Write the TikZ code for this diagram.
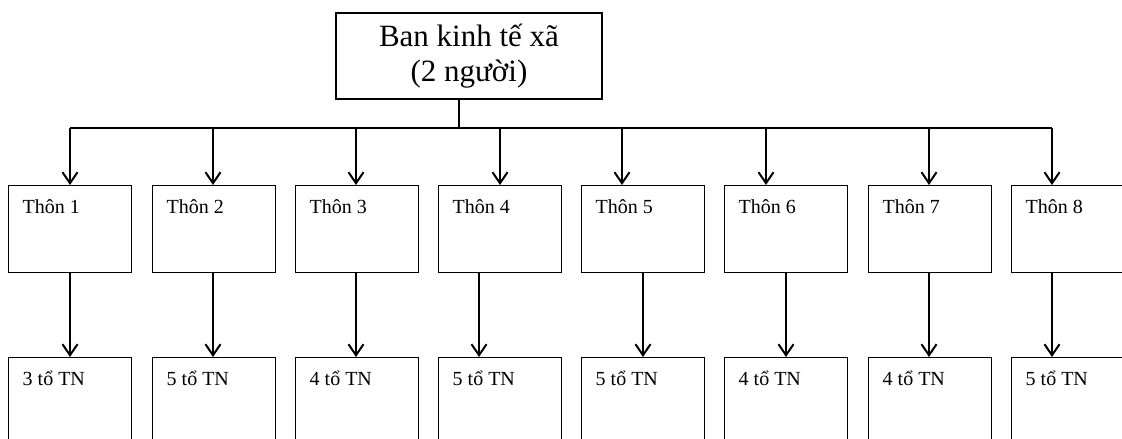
\documentclass[tikz,border=0pt]{standalone}
\usepackage{fontspec}
\setmainfont{Liberation Serif}
\usetikzlibrary{arrows.meta}
\begin{document}
\begin{tikzpicture}[x=1pt,y=-1pt,
  box/.style={draw,line width=1.3pt,minimum width=123pt,minimum height=87pt,inner sep=0pt},
  topbox/.style={draw,line width=1.3pt,minimum width=266pt,minimum height=86pt,inner sep=0pt,align=center,
    font=\fontsize{31}{35}\selectfont},
  lbl/.style={anchor=base west,inner sep=0pt,font=\fontsize{20}{24}\selectfont},
  link/.style={line width=2pt},
  arr/.style={line width=2pt,-{Straight Barb[length=11pt,width=15pt,line width=2pt]}}]
\useasboundingbox (0,0) rectangle (1122,439);
\clip (0,0) rectangle (1122,439);
% head office
\node[topbox] (top) at (469,56) {Ban kinh tế xã\\(2 người)};
% village and group boxes
\foreach \i/\lx/\ux/\dx/\tv/\tg in {
    1/8/70/70/Thôn 1/3 tổ TN,
    2/152/213/213/Thôn 2/5 tổ TN,
    3/295/356/356/Thôn 3/4 tổ TN,
    4/438/500/479/Thôn 4/5 tổ TN,
    5/581/622/643/Thôn 5/5 tổ TN,
    6/724/766/786/Thôn 6/4 tổ TN,
    7/868/929/929/Thôn 7/4 tổ TN,
    8/1011/1052/1052/Thôn 8/5 tổ TN}{
  \node[box,anchor=north west] (t\i) at (\lx,185) {};
  \node[box,anchor=north west] (g\i) at (\lx,357) {};
  \node[lbl] (tl\i) at ([xshift=14.5pt,yshift=-28pt]t\i.north west) {\tv};
  \node[lbl] (gl\i) at ([xshift=14.5pt,yshift=-28pt]g\i.north west) {\tg};
  \coordinate (b\i) at (\ux,128);
  \coordinate (d\i) at (\dx,272);
  \draw[arr] (b\i) -- (b\i |- t\i.north);
  \draw[arr] (d\i) -- (d\i |- g\i.north);
}
% bus line and the stem that joins it to the head office
\coordinate (stem) at (459,128);
\draw[link] (b1) -- (b8);
\draw[line width=1.3pt] (stem |- top.south) -- (stem);
\end{tikzpicture}
\end{document}
